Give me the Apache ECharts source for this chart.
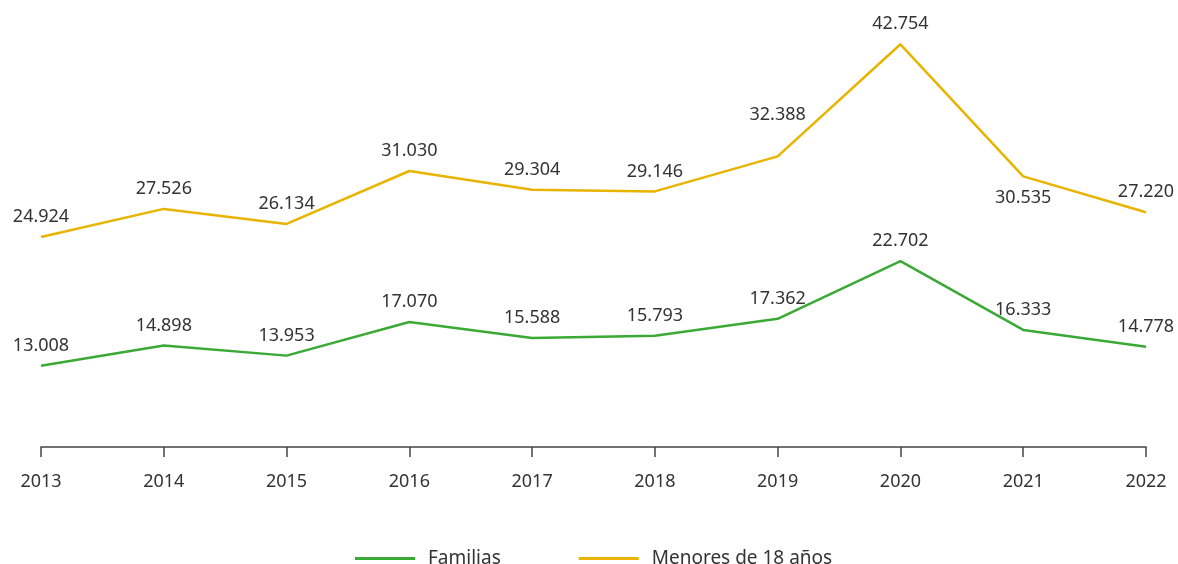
<!DOCTYPE html>
<html>
<head>
<meta charset="utf-8">
<script src="https://cdn.jsdelivr.net/npm/echarts@6/dist/echarts.min.js"></script>
<style>
  html, body { margin: 0; padding: 0; background: #fff; }
  #chart { width: 1178px; height: 564px; }
</style>
</head>
<body>
<div id="chart"></div>
<script>
// años
const years = ["2013", "2014", "2015", "2016", "2017", "2018", "2019", "2020", "2021", "2022"];
// Familias
const familias = [13.008, 14.898, 13.953, 17.070, 15.588, 15.793, 17.362, 22.702, 16.333, 14.778];
// Menores de 18 años
const menores = [24.924, 27.526, 26.134, 31.030, 29.304, 29.146, 32.388, 42.754, 30.535, 27.220];

const green = "#3aa935";
const yellow = "#e8b400";
const textColor = "#333";
const fontFamily = "'Noto Sans', sans-serif";

// etiqueta con tres decimales (punto como separador de miles)
const fmt = (v) => v.toFixed(3);

const labelBase = {
  show: true,
  position: "top",
  distance: 11,
  color: textColor,
  fontSize: 18,
  fontFamily: fontFamily,
  formatter: (p) => fmt(p.value),
};

// algunos puntos llevan la etiqueta en otra posición
const menoresData = menores.map((v, i) => {
  if (i === 8) return { value: v, label: { position: "bottom", distance: 13 } };
  if (i === 6) return { value: v, label: { distance: 32 } };
  return v;
});

const chart = echarts.init(document.getElementById("chart"));

const options = {
  animation: false,
  grid: { left: 41, right: 32, top: 20, bottom: 117 },
  legend: {
    top: 544,
    left: 350,
    itemWidth: 60,
    itemHeight: 3,
    itemGap: 78,
    icon: "rect",
    textStyle: {
      color: textColor,
      fontSize: 19,
      fontFamily: fontFamily,
      padding: [0, 0, 0, 8],
    },
    data: ["Familias", "Menores de 18 años"],
  },
  xAxis: {
    type: "category",
    boundaryGap: false,
    data: years,
    axisLine: { lineStyle: { color: "#444", width: 1.5 } },
    axisTick: { show: true, length: 10, lineStyle: { color: "#444", width: 1.5 } },
    axisLabel: {
      color: textColor,
      fontSize: 18,
      fontFamily: fontFamily,
      margin: 26,
      interval: 0,
    },
  },
  yAxis: {
    type: "value",
    min: 5.5,
    max: 45,
    show: false,
    splitLine: { show: false },
  },
  series: [
    {
      name: "Familias",
      type: "line",
      data: familias,
      color: green,
      symbol: "circle",
      symbolSize: 0,
      lineStyle: { width: 2.5, color: green },
      label: labelBase,
    },
    {
      name: "Menores de 18 años",
      type: "line",
      data: menoresData,
      color: yellow,
      symbol: "circle",
      symbolSize: 0,
      lineStyle: { width: 2.5, color: yellow },
      label: labelBase,
    },
  ],
};

chart.setOption(options);
</script>
</body>
</html>
